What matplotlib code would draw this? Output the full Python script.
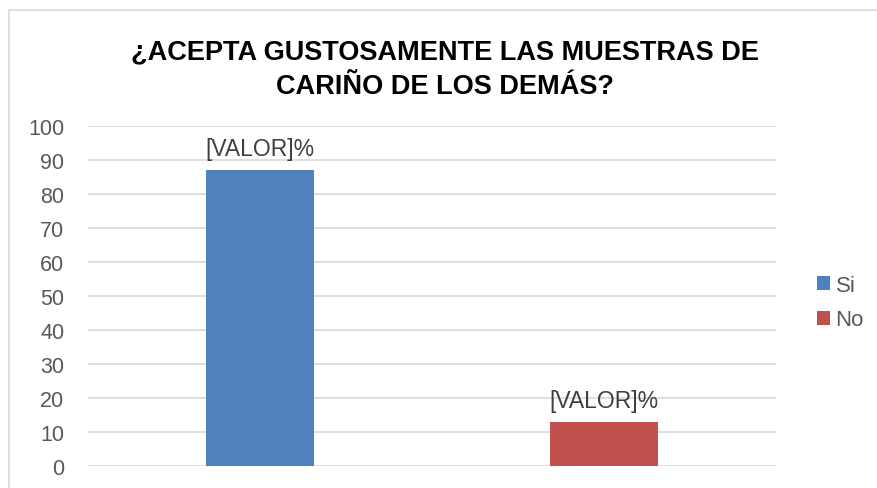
import numpy as np
import matplotlib.pyplot as plt
from matplotlib.patches import Rectangle

plt.rcParams['font.family'] = ['Liberation Sans', 'DejaVu Sans']

# datos
categorias = ["Si", "No"]
valores = [87, 13]
etiquetas = ["[VALOR]%", "[VALOR]%"]
colores = ["#4F81BD", "#C0504D"]
titulo = "¿ACEPTA GUSTOSAMENTE LAS MUESTRAS DE\nCARIÑO DE LOS DEMÁS?"

fig = plt.figure(figsize=(8.78, 4.89), dpi=100)

# borde del grafico (solo arriba e izquierda visibles)
fig.patches.append(Rectangle((9 / 878, -0.05), 1.0, 1 - 11 / 489 + 0.05,
                             transform=fig.transFigure, fill=False,
                             edgecolor="#D9D9D9", linewidth=1.2))

ax = fig.add_axes([88 / 878, 1 - 467 / 489, (776 - 88) / 878, (467 - 127) / 489])

x = np.arange(len(categorias))
for i in range(len(categorias)):
    ax.bar(x[i], valores[i], width=0.315, color=colores[i], label=categorias[i], zorder=3)
    ax.text(x[i], valores[i] + 3.0, etiquetas[i], ha="center", va="bottom",
            fontsize=16.5, color="#404040")

ax.set_xlim(-0.5, 1.5)
ax.set_ylim(0, 100)
ax.set_yticks(np.arange(0, 101, 10))
ax.set_xticks([])
ax.grid(axis="y", color="#D9D9D9", linewidth=1.2, zorder=0)
for s in ax.spines.values():
    s.set_visible(False)
ax.tick_params(axis="y", length=0, labelsize=15.5, labelcolor="#595959", pad=17)

fig.text(0.507, 0.858, titulo, ha="center", va="center", fontsize=19.5,
         fontweight="bold", color="black", linespacing=1.45)

ax.legend(loc="center left", bbox_to_anchor=(1.03, 0.48), frameon=False,
          fontsize=16, labelcolor="#595959", handlelength=0.6, handleheight=0.6,
          handletextpad=0.25, labelspacing=0.6)

fig.savefig("out.png", dpi=100)
